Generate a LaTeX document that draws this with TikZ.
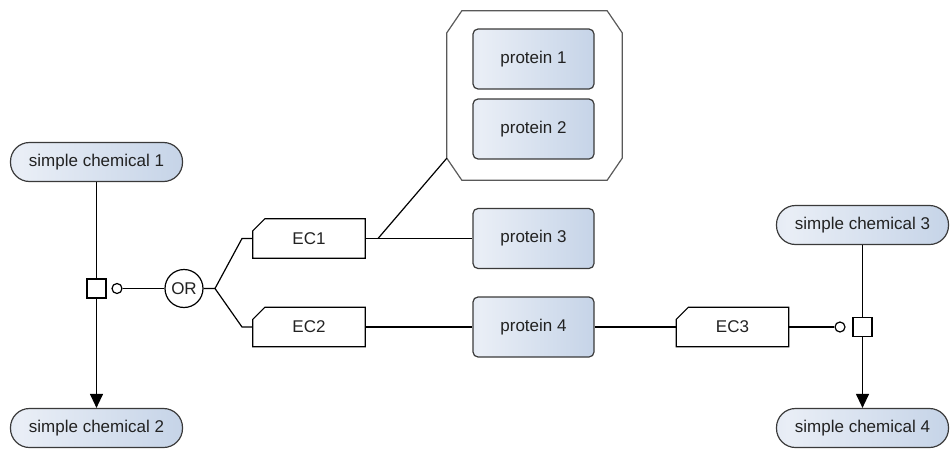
\documentclass[tikz,border=0pt]{standalone}
\usepackage{fontspec}
\setmainfont{Liberation Sans}
\usetikzlibrary{arrows.meta,calc}
\definecolor{gla}{HTML}{C6D3E8}
\definecolor{glb}{HTML}{E9EEF6}
\definecolor{glc}{HTML}{B3C6E0}
\definecolor{edgec}{HTML}{3A3A3A}
\definecolor{txtc}{HTML}{222222}
\pgfdeclarehorizontalshading{glyphshade}{100bp}{color(0bp)=(gla); color(28bp)=(glb); color(100bp)=(glc)}
\newcommand{\ecdraw}[1]{\draw[ecline] (#1.south west) -- (#1.south east) -- (#1.north east) -- ([xshift=12pt]#1.north west) -- ([yshift=-12pt]#1.north west) -- cycle;}
\begin{document}
\begin{tikzpicture}[x=1pt,y=-1pt,
  every node/.style={font=\fontsize{17}{20}\selectfont, text=txtc},
  chem/.style={minimum width=172pt, minimum height=39pt, inner sep=0pt, rounded corners=19pt, shading=glyphshade, draw=edgec, line width=1.2pt},
  prot/.style={minimum width=121pt, minimum height=60pt, inner sep=0pt, rounded corners=5pt, shading=glyphshade, draw=edgec, line width=1.2pt},
  ecbox/.style={minimum width=112pt, minimum height=39pt, inner sep=0pt},
  ecline/.style={draw=black, line width=1.2pt, line join=miter},
  cpxline/.style={draw=black!65, line width=1.2pt},
  proc/.style={draw=black, fill=white, minimum size=19pt, inner sep=0pt, line width=1.2pt},
  modc/.style={circle, draw=black, fill=white, minimum size=10pt, inner sep=0pt, line width=1.2pt},
  orgate/.style={circle, draw=black, fill=white, minimum size=38pt, inner sep=0pt, line width=1.2pt},
  conn/.style={draw=black, line width=1.2pt},
  prod/.style={conn, -{Triangle[width=13pt,length=14pt]}}
]
\useasboundingbox (0,0) rectangle (951,450);

% complex
\node[minimum width=175pt, minimum height=169pt, inner sep=0pt] (cpx) at (534.5,95.5) {};
\draw[cpxline] ([xshift=15pt]cpx.north west) -- ([xshift=-15pt]cpx.north east) -- ([yshift=-22pt]cpx.north east) -- ([yshift=22pt]cpx.south east) -- ([xshift=-15pt]cpx.south east) -- ([xshift=15pt]cpx.south west) -- ([yshift=22pt]cpx.south west) -- ([yshift=-22pt]cpx.north west) -- cycle;
\coordinate (cpxc) at ([yshift=22pt]cpx.south west);

% proteins
\node[prot] (p1) at (533.5,59) {protein 1};
\node[prot] (p2) at (533.5,129) {protein 2};
\node[prot] (p3) at (533.5,238.5) {protein 3};
\node[prot] (p4) at (533.5,327) {protein 4};

% simple chemicals
\node[chem] (sc1) at (96.5,162) {simple chemical 1};
\node[chem] (sc2) at (96.5,428) {simple chemical 2};
\node[chem] (sc3) at (862.5,225) {simple chemical 3};
\node[chem] (sc4) at (862.5,428) {simple chemical 4};

% processes
\node[proc] (pr1) at (96.5,288.5) {};
\node[proc] (pr2) at (862.5,327) {};
\node[modc] (m1) at (117,288.5) {};
\node[modc] (m2) at (840,327) {};

% OR gate
\node[orgate] (or) at (184,288.5) {OR};

% enzymes (EC)
\node[ecbox] (ec1) at (309,238.5) {EC1};
\node[ecbox] (ec2) at (309,327) {EC2};
\node[ecbox] (ec3) at (732.5,327) {EC3};
\ecdraw{ec1}
\ecdraw{ec2}
\ecdraw{ec3}

% coordinates for branching
\coordinate (br) at (215,288.5);
\coordinate (b1) at (242,238.5);
\coordinate (b2) at (242,327);
\coordinate (j1) at (378,238.5);

% connectors
\draw[conn] (sc1.south) -- (pr1.north);
\draw[prod] (pr1.south) -- (sc2.north);
\draw[conn] (sc3.south) -- (pr2.north);
\draw[prod] (pr2.south) -- (sc4.north);
\draw[conn] (or.west) -- (m1.east);
\draw[conn] (or.east) -- (br) -- (b1) -- (ec1.west);
\draw[conn] (br) -- (b2) -- (ec2.west);
\draw[conn] (ec1.east) -- (p3.west);
\draw[conn] (j1) -- (cpxc);
\draw[conn] (ec2.east) -- (p4.west);
\draw[conn] (p4.east) -- (ec3.west);
\draw[conn] (ec3.east) -- (m2.west);
\end{tikzpicture}
\end{document}
